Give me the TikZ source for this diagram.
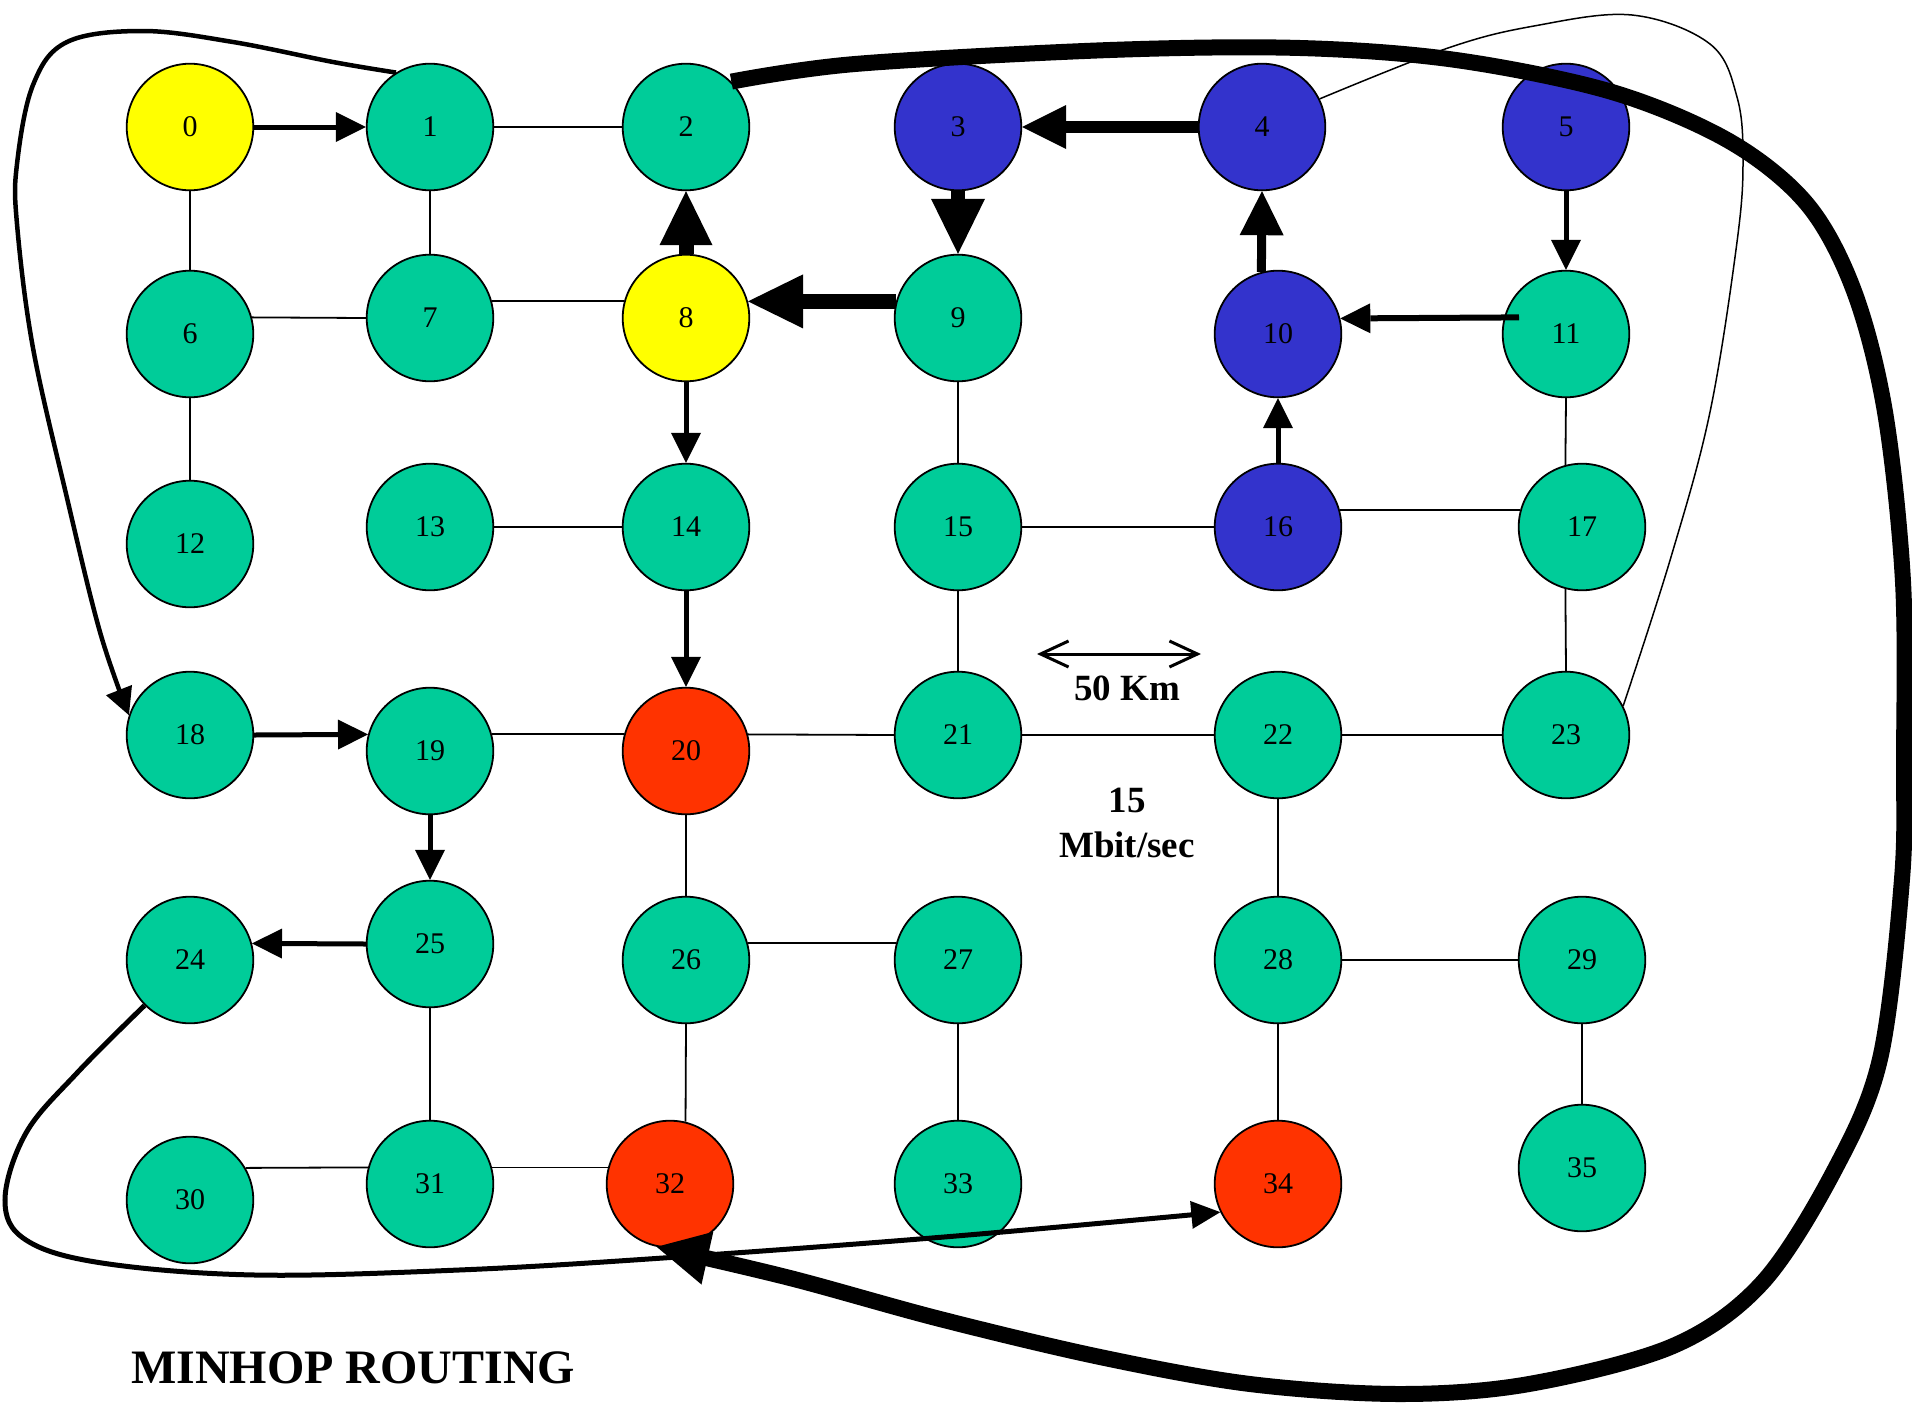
\documentclass[tikz,border=0pt]{standalone}
\usepackage{fontspec}
\setmainfont{Liberation Serif}
\usetikzlibrary{arrows.meta}
\definecolor{netgreen}{HTML}{00CC99}
\definecolor{netyellow}{HTML}{FFFF00}
\definecolor{netblue}{HTML}{3333CC}
\definecolor{netred}{HTML}{FF3300}
\begin{document}
\begin{tikzpicture}[x=1pt,y=-1pt,
  site/.style={circle, draw=black, line width=1.8pt, minimum size=126.6pt,
    inner sep=0pt, font=\fontsize{30}{36}\selectfont},
  link/.style={line width=1.8pt},
  hopS/.style={line width=5pt, -{Triangle[length=30pt,width=30pt,line width=0pt]}},
  hopM/.style={line width=9pt, -{Triangle[length=44pt,width=44pt,line width=0pt]}},
  hopL/.style={line width=12pt, -{Triangle[length=44pt,width=44pt,line width=0pt]}},
  hopXL/.style={line width=15pt, -{Triangle[length=55pt,width=54pt,line width=0pt]}},
  label/.style={font=\bfseries\fontsize{37}{44}\selectfont, inner sep=0pt, anchor=base}]
\useasboundingbox (0,0) rectangle (1912,1403);

% network sites
\foreach \i/\x/\y/\c in {
  0/190/127/netyellow, 1/430/127/netgreen, 2/686/127/netgreen,
  3/958/127/netblue, 4/1262/127/netblue, 5/1566/127/netblue,
  6/190/334/netgreen, 7/430/318/netgreen, 8/686/318/netyellow,
  9/958/318/netgreen, 10/1278/334/netblue, 11/1566/334/netgreen,
  12/190/544/netgreen, 13/430/527/netgreen, 14/686/527/netgreen,
  15/958/527/netgreen, 16/1278/527/netblue, 17/1582/527/netgreen,
  18/190/735/netgreen, 19/430/751/netgreen, 20/686/751/netred,
  21/958/735/netgreen, 22/1278/735/netgreen, 23/1566/735/netgreen,
  24/190/960/netgreen, 25/430/944/netgreen, 26/686/960/netgreen,
  27/958/960/netgreen, 28/1278/960/netgreen, 29/1582/960/netgreen,
  30/190/1200/netgreen, 31/430/1184/netgreen, 32/670/1184/netred,
  33/958/1184/netgreen, 34/1278/1184/netred, 35/1582/1168/netgreen}
  \node[site, fill=\c] (n\i) at (\x,\y) {\i};

% plain links
\draw[link] (n0.south) -- (n6.north);
\draw[link] (n1.east) -- (n2.west);
\draw[link] (n1.south) -- (n7.north);
\draw[link] (n6.15) -- (n7.west);
\draw[link] (n7.15) -- (n8.165);
\draw[link] (n6.south) -- (n12.north);
\draw[link] (n9.south) -- (n15.north);
\draw[link] (n11.south) -- (n17.105);
\draw[link] (n13.east) -- (n14.west);
\draw[link] (n15.east) -- (n16.west);
\draw[link] (n16.15) -- (n17.165);
\draw[link] (n15.south) -- (n21.north);
\draw[link] (n17.255) -- (n23.north);
\draw[link] (n19.15) -- (n20.165);
\draw[link] (n20.15) -- (n21.west);
\draw[link] (n21.east) -- (n22.west);
\draw[link] (n22.east) -- (n23.west);
\draw[link] (n22.south) -- (n28.north);
\draw[link] (n20.south) -- (n26.north);
\draw[link] (n25.south) -- (n31.north);
\draw[link] (n26.15) -- (n27.165);
\draw[link] (n26.south) -- (n32.76);
\draw[link] (n27.south) -- (n33.north);
\draw[link] (n28.east) -- (n29.west);
\draw[link] (n28.south) -- (n34.north);
\draw[link] (n29.south) -- (n35.north);
\draw[link] (n30.30) -- (n31.165);
\draw[link] (n31.15) -- (n32.165);

% routing hops
\draw[hopS] (n0.east) -- (n1.west);
\draw[hopS] (n18.east) -- (n19.165);
\draw[hopS] (n19.south) -- (n25.north);
\draw[hopS] (n25.west) -- (n24.15);
\draw[hopS] (n8.south) -- (n14.north);
\draw[hopS] (n14.south) -- (n20.north);
\draw[hopS] (n5.south) -- (n11.north);
\draw[hopS, line width=6pt] ([xshift=15pt]n11.165) -- (n10.14);
\draw[hopS] (n16.north) -- (n10.south);
\draw[hopM] (n10.105) -- (n4.south);
\draw[hopL] (n4.west) -- (n3.east);
\draw[hopXL, line width=14pt] (n3.south) -- (n9.north);
\draw[hopXL] (n9.165) -- (n8.15);
\draw[hopXL, -{Triangle[length=54pt,width=53pt,line width=0pt]}] (n8.north) -- (n2.south);

% long routes
\draw[line width=4.5pt, -{Triangle[length=27pt,width=28pt,line width=0pt]}]
  plot[smooth, tension=0.6] coordinates {(n1.122) (333,62) (233,42) (143,31)
  (67,42) (33,85) (17,164) (17,224) (33,348) (67,498) (100,632) (n18.162)};
\draw[line width=16pt, -{Triangle[length=52pt,width=54pt,line width=0pt]}]
  plot[smooth, tension=0.55] coordinates {(n2.45) (855,64) (1110,50) (1300,48)
  (1456,60) (1612,92) (1729,141) (1807,204) (1854,291) (1885,412) (1903,582)
  (1904,760) (1902,879) (1880,1059) (1834,1171) (1762,1283) (1673,1346)
  (1529,1384) (1400,1394) (1250,1384) (1100,1357) (940,1319) (790,1278) (n32.258)};
\draw[line width=5pt, -{Triangle[length=29pt,width=28pt,line width=0pt]}]
  plot[smooth, tension=0.6] coordinates {(n24.225) (77,1073) (26,1133) (5,1200)
  (26,1240) (102,1263) (255,1275) (459,1270) (663,1258) (944,1237) (n34.206)};
\draw[line width=1.5pt]
  plot[smooth, tension=0.6] coordinates {(n4.26) (1448,48) (1534,26) (1632,15)
  (1710,44) (1737,97) (1743,160) (1737,242) (1710,412) (1671,557) (n23.27)};

% scale and capacity notes
\coordinate (kmL) at (1037,654);
\coordinate (kmR) at (1201,654);
\draw[line width=3pt, {Straight Barb[length=28pt,width=26pt]}-{Straight Barb[length=28pt,width=26pt]}] (kmL) -- (kmR);
\node[label] (km) at (1127,700) {50 Km};
\node[label] (rate) at (1127,812) {15};
\node[label] (unit) at (1127,857) {Mbit/sec};
\node[font=\bfseries\fontsize{48}{56}\selectfont, inner sep=0pt, anchor=base west]
  (title) at (131,1383) {MINHOP ROUTING};
\end{tikzpicture}
\end{document}
